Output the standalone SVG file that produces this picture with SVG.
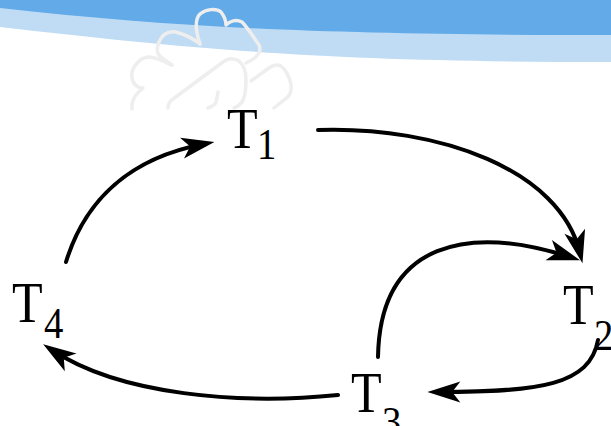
<svg xmlns="http://www.w3.org/2000/svg" width="611" height="426" viewBox="0 0 611 426">
<style>
.lbl{font-family:"Liberation Serif","Times New Roman",serif;fill:#000}
.big{font-size:57px}
.sub{font-size:44px}
.arc{fill:none;stroke:#000;stroke-width:4;stroke-linecap:round;marker-end:url(#ah)}
.cloud{fill:none;stroke:#EEEEEE;stroke-width:3.5;stroke-linecap:round;stroke-linejoin:round}
</style>
<defs>
<marker id="ah" markerUnits="userSpaceOnUse" markerWidth="40" markerHeight="30" viewBox="-22 -12 34 24" refX="0" refY="0" orient="auto" overflow="visible">
<path d="M9,0 L-19,-9 L-12,0 L-19,9 Z" fill="#000"/>
</marker>
</defs>
<rect width="611" height="426" fill="#fff"/>
<g id="banner">
<path d="M0,0 H611 V62 C330,62 200,50 0,27 Z" fill="#C0DCF5"/>
<path d="M0,0 H611 V35 C330,35 180,28 0,8 Z" fill="#62AAE8"/>
</g>
<g id="watermark">
<path class="cloud" d="M200,44 C196,32 194,20 200,14 C206,9 216,8 221,12 C224,16 226,22 226,25 C230,21 236,19 242,22 C248,28 254,38 259,45 C262,52 257,58 246,63"/>
<path class="cloud" d="M200,44 C194,39 186,35 176,32 C168,31 162,35 159,42 C156,49 157,55 162,58 L172,65"/>
<path class="cloud" d="M171,65 C164,61 156,57 148,57 C140,58 134,65 132,72 C131,79 133,85 140,88 L143,88 C138,92 133,97 132,104 L132,109"/>
<path class="cloud" d="M168,108 C168,104 170,101 173,99 L223,62 C228,58 234,58 239,61 C244,65 246,72 246,80 C246,89 245,97 242,102 C240,105 237,107 234,108"/>
<path class="cloud" d="M218,92 C217,97 217,101 215,104 C213,106 211,107 208,108"/>
<path class="cloud" d="M251,81 L269,68 C273,65 277,64 281,66 C286,70 290,78 291,85 C292,92 289,97 284,100 L274,108"/>
</g>
<g id="connectors">
<path class="arc" d="M66,262 C85,200 130,158 204,144"/>
<path class="arc" d="M318,130 C440,126 560,170 580,253"/>
<path class="arc" d="M378,357 C380,240 470,225 570,257"/>
<path class="arc" d="M598,340 C590,385 540,392 438,392"/>
<path class="arc" d="M338,395 C240,405 120,395 52,350"/>
</g>
<g id="T1">
<text class="lbl big" transform="translate(227,148) scale(0.88,1)">T</text>
<text class="lbl sub" transform="translate(257,159) scale(0.88,1)">1</text>
</g>
<g id="T2">
<text class="lbl big" transform="translate(563,324) scale(0.88,1)">T</text>
<text class="lbl sub" transform="translate(594,350) scale(0.88,1)">2</text>
</g>
<g id="T3">
<text class="lbl big" transform="translate(351,412) scale(0.88,1)">T</text>
<text class="lbl sub" transform="translate(382,437) scale(0.88,1)">3</text>
</g>
<g id="T4">
<text class="lbl big" transform="translate(12,322) scale(0.88,1)">T</text>
<text class="lbl sub" transform="translate(44,338) scale(0.88,1)">4</text>
</g>
</svg>
